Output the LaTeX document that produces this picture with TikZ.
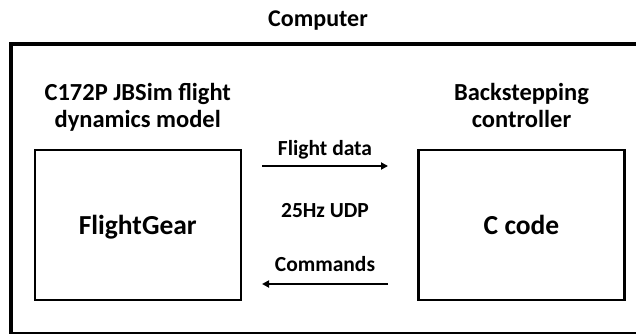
\documentclass[tikz,border=0pt]{standalone}
\usepackage{fontspec}
\setmainfont{Carlito}
\usetikzlibrary{arrows.meta}
\begin{document}
\begin{tikzpicture}[x=1pt,y=-1pt,
  lbl/.style={inner sep=0pt,anchor=base,font=\fontsize{24.5}{28}\selectfont\bfseries},
  small/.style={inner sep=0pt,anchor=base,font=\fontsize{21.5}{25}\selectfont\bfseries},
  blk/.style={draw,line width=2.2pt,minimum width=206pt,minimum height=150pt,inner sep=0pt,
    text depth=0pt,font=\fontsize{27.5}{32}\selectfont\bfseries},
  conn/.style={line width=2pt,-{Triangle[length=7pt,width=7pt]}}]
\useasboundingbox (0,0) rectangle (636,334);
\clip (0,0) rectangle (636,334);
\fill[white] (0,0) rectangle (636,334);
\node[inner sep=0pt,anchor=base,font=\fontsize{24}{28}\selectfont\bfseries] (title) at (318,27) {Computer};
\node[draw,line width=3.6pt,anchor=north west,minimum width=660pt,minimum height=289.5pt,inner sep=0pt] (outer) at (9,42.5) {};
\node[lbl] (l1) at (137.75,100) {C172P JBSim flight};
\node[lbl] (l2) at (137.75,128) {dynamics model};
\node[lbl] (r1) at (521.5,100) {Backstepping};
\node[lbl] (r2) at (521.5,128) {controller};
\node[blk] (fg) at (137.75,225) {FlightGear};
\node[blk] (cc) at (521.5,225) {C code};
\node[small] (fd) at (325,155) {Flight data};
\node[small] (udp) at (325,217) {25Hz UDP};
\node[small] (cmd) at (325,271) {Commands};
\coordinate (a1s) at (262,166);
\coordinate (a1e) at (388,166);
\coordinate (a2s) at (388,284);
\coordinate (a2e) at (262,284);
\draw[conn] (a1s) -- (a1e);
\draw[conn] (a2s) -- (a2e);
\end{tikzpicture}
\end{document}
